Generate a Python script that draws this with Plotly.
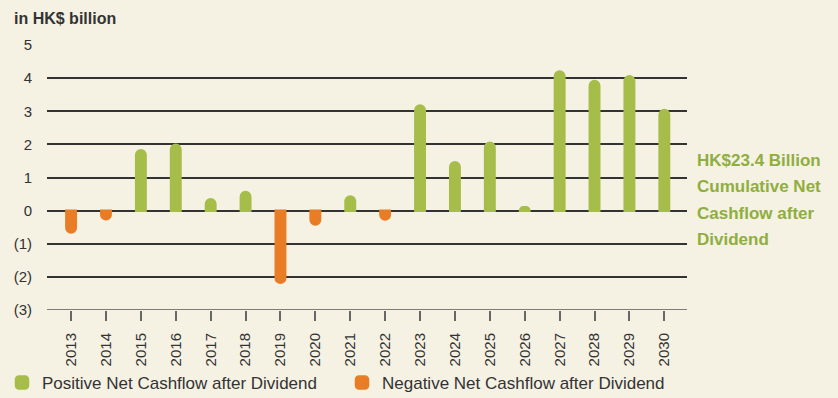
import plotly.graph_objects as go

# Net cashflow after dividend, HK$ billion
years = [str(y) for y in range(2013, 2031)]
net_cashflow = [-0.66, -0.26, 1.82, 1.99, 0.34, 0.56, -2.18, -0.42, 0.43, -0.27,
                3.17, 1.46, 2.05, 0.10, 4.20, 3.91, 4.06, 3.04]
y_tickvals = [5, 4, 3, 2, 1, 0, -1, -2, -3]
y_ticktext = ["5", "4", "3", "2", "1", "0", "(1)", "(2)", "(3)"]
summary_lines = ["HK$23.4 Billion", "Cumulative Net", "Cashflow after", "Dividend"]

positive = [v if v > 0 else None for v in net_cashflow]
negative = [v if v < 0 else None for v in net_cashflow]

BG = "#F5F1E3"
GREEN = "#A6BD4A"
ORANGE = "#E87D25"
TEXT = "#333333"
FONT = "Liberation Sans, Arial, sans-serif"

W, H = 838, 398
ML, MR, MT, MB = 47, 151, 45, 88
PW, PH = W - ML - MR, H - MT - MB


def px_x(x):
    return (x - ML) / PW


def px_y(y):
    return (H - MB - y) / PH


fig = go.Figure()
fig.add_trace(go.Bar(
    x=years, y=positive, name="Positive Net Cashflow after Dividend",
    marker=dict(color=GREEN, cornerradius=5, line=dict(color=GREEN, width=2.5)),
    width=0.27, legend="legend",
))
fig.add_trace(go.Bar(
    x=years, y=negative, name="Negative Net Cashflow after Dividend",
    marker=dict(color=ORANGE, cornerradius=5, line=dict(color=ORANGE, width=2.5)),
    width=0.27, legend="legend2",
))

legend_common = dict(
    orientation="h", xref="container", yref="container",
    y=15 / H, xanchor="left", yanchor="middle",
    font=dict(size=17, color=TEXT), bgcolor="rgba(0,0,0,0)",
)

fig.update_layout(
    width=W, height=H,
    margin=dict(l=ML, r=MR, t=MT, b=MB, autoexpand=False),
    paper_bgcolor=BG, plot_bgcolor=BG,
    barmode="overlay",
    font=dict(family=FONT, size=15, color=TEXT),
    showlegend=True,
    legend=dict(x=2 / W, **legend_common),
    legend2=dict(x=342 / W, **legend_common),
    xaxis=dict(
        type="category", range=[-0.69, 17.65], automargin=False,
        showgrid=False, showline=False, zeroline=False,
        ticks="outside", ticklen=10, tickcolor="#666666", tickwidth=1.5,
        tickangle=-90, tickfont=dict(size=15, color=TEXT),
        ticklabelstandoff=6,
    ),
    yaxis=dict(
        range=[-3, 5], tickvals=y_tickvals, ticktext=y_ticktext, automargin=False,
        showgrid=True, gridcolor="#333333", gridwidth=1.5,
        zeroline=True, zerolinecolor="#333333", zerolinewidth=1.5,
        showline=False, ticks="", tickfont=dict(size=15, color=TEXT),
        ticklabelstandoff=14,
    ),
)

# bottom axis baseline at (3)
fig.add_shape(type="line", xref="paper", yref="y", x0=0, x1=1, y0=-3, y1=-3,
              line=dict(color="#555555", width=1.5), layer="below")

fig.add_annotation(
    text="<b>in HK$ billion</b>", xref="paper", yref="paper",
    x=px_x(12), y=px_y(18), xanchor="left", yanchor="middle",
    showarrow=False, font=dict(size=16, color=TEXT),
)
for i, line in enumerate(summary_lines):
    fig.add_annotation(
        text=f"<b>{line}</b>", xref="paper", yref="paper",
        x=px_x(695), y=px_y(160.5 + 26.3 * i), xanchor="left", yanchor="middle",
        showarrow=False, font=dict(size=17, color="#8FAE3E"),
    )

fig.write_html("out.html")
